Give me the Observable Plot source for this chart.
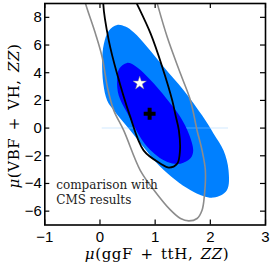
<!DOCTYPE html>
<html><head><meta charset="utf-8">
<script src="https://cdn.jsdelivr.net/npm/d3@7"></script>
<script src="https://cdn.jsdelivr.net/npm/@observablehq/plot@0.6"></script>
<style>body{margin:0;background:#fff} svg{display:block}</style>
</head><body><div id="chart"></div>
<script>
const xTicks = [-1, 0, 1, 2, 3];
const yTicks = [-6, -4, -2, 0, 2, 4, 6, 8];

// 2-sigma (light blue) region boundary
const region2 = [[0.31,7.45],[0.46,7.33],[0.61,6.92],[0.86,5.84],[1.16,4.40],[1.52,2.72],[1.85,0.92],[2.06,-0.40],[2.24,-1.61],[2.33,-3.05],[2.30,-4.49],[2.06,-5.02],[1.70,-4.61],[1.16,-3.05],[0.55,-0.17],[0.25,1.28],[0.13,2.0],[0.06,3.22],[0.04,4.88],[0.07,6.08],[0.16,7.04]];
// 1-sigma (dark blue) region boundary
const region1 = [[0.49,4.71],[0.67,4.40],[0.98,3.20],[1.28,1.76],[1.46,0.79],[1.61,-0.40],[1.69,-1.61],[1.64,-2.18],[1.46,-2.57],[1.22,-2.45],[0.86,-1.37],[0.49,1.13],[0.34,2.36],[0.31,3.44],[0.35,4.30]];
// CMS 1-sigma contour (black)
const cms1 = [[0.06,8.97],[0.16,6.32],[0.31,3.92],[0.54,0.92],[0.79,-1.61],[1.10,-2.57],[1.25,-2.85],[1.40,-2.57],[1.45,-1.61],[1.43,-0.17],[1.37,0.92],[1.31,2.00],[1.13,4.40],[0.92,6.80],[0.67,8.97],[0.46,10.65],[0.23,11.73],[0.08,10.65]];
// CMS 2-sigma contour (gray)
const cms2 = [[-0.26,8.97],[-0.08,6.80],[0.04,5.12],[0.14,2.86],[0.25,1.28],[0.43,-0.17],[0.73,-3.05],[0.98,-4.49],[1.28,-5.93],[1.46,-6.53],[1.61,-6.70],[1.76,-6.53],[1.85,-5.93],[1.89,-4.97],[1.91,-3.05],[1.85,-1.61],[1.76,-0.17],[1.64,2.00],[1.46,3.92],[1.22,6.56],[1.04,8.97],[0.88,11.37],[0.19,16.4],[-0.43,11.37]];
const bestFit = [[0.72, 3.24]];   // star
const smPoint = [[0.90, 1.04]];   // cross
const seam = [{y: 0, x1: 0.04, x2: 2.33}];
const note = ["comparison with\nCMS results"];

const W = 273, H = 265;
const mL = 44.3, mR = 8, mT = 3, mB = 40.5;
const fw = W - mL - mR, fh = H - mT - mB;
const X = d => d[0], Y = d => d[1];

const plot = Plot.plot({
  width: W, height: H,
  marginLeft: mL, marginRight: mR, marginTop: mT, marginBottom: mB,
  x: {domain: [-1, 3]},
  y: {domain: [-7, 9]},
  style: {background: "white"},
  marks: [
    Plot.line(region2, {x: X, y: Y, fill: "#0080ff", stroke: "none", curve: "catmull-rom-closed", clip: true}),
    Plot.ruleY(seam, {y: "y", x1: "x1", x2: "x2", stroke: "#99ccff", strokeOpacity: 0.3, strokeWidth: 1.5}),
    Plot.line(region1, {x: X, y: Y, fill: "#0000ff", stroke: "none", curve: "catmull-rom-closed", clip: true}),
    Plot.line(cms2, {x: X, y: Y, stroke: "#8c8c8c", strokeWidth: 1.6, curve: "catmull-rom-closed", clip: true}),
    Plot.line(cms1, {x: X, y: Y, stroke: "black", strokeWidth: 1.8, curve: "catmull-rom-closed", clip: true}),
    Plot.dot(bestFit, {x: X, y: Y, symbol: "star", r: 4.2, fill: "white", stroke: "#888", strokeWidth: 0.5}),
    Plot.dot(smPoint, {x: X, y: Y, symbol: "cross", r: 5, fill: "black", stroke: "none"}),
    Plot.text(note, {text: d => d, frameAnchor: "bottom-left", dx: 11.5, dy: -21.5, textAnchor: "start", lineAnchor: "bottom", fontFamily: "DejaVu Serif", fontSize: 12, lineHeight: 1.22, fill: "#222"}),
    // inward ticks on all four sides
    Plot.tickX(xTicks, {x: d => d, insetTop: fh - 5, stroke: "black", strokeWidth: 1.2}),
    Plot.tickX(xTicks, {x: d => d, insetBottom: fh - 5, stroke: "black", strokeWidth: 1.2}),
    Plot.tickY(yTicks, {y: d => d, insetRight: fw - 5, stroke: "black", strokeWidth: 1.2}),
    Plot.tickY(yTicks, {y: d => d, insetLeft: fw - 5, stroke: "black", strokeWidth: 1.2}),
    Plot.axisX(xTicks, {tickSize: 0, tickPadding: 6, fontSize: 15, fontFamily: "Liberation Sans", label: null}),
    Plot.axisY(yTicks, {tickSize: 0, tickPadding: 3, fontSize: 15, fontFamily: "Liberation Sans", label: null}),
    Plot.frame({stroke: "black", strokeWidth: 1.6})
  ]
});

const svg = d3.select(plot);
function mathLabel(parts, attrs) {
  const t = svg.append("text")
    .attr("font-family", "DejaVu Serif")
    .attr("font-size", 15)
    .attr("letter-spacing", 0.6)
    .attr("word-spacing", 2)
    .attr("fill", "black")
    .attr("text-anchor", "middle");
  for (const [k, v] of Object.entries(attrs)) t.attr(k, v);
  for (const [s, it] of parts) t.append("tspan").attr("font-style", it ? "italic" : "normal").text(s);
  return t;
}
mathLabel([["μ", true], ["(ggF + ttH, ", false], ["ZZ", true], [")", false]],
  {x: 157, y: 259});
mathLabel([["μ", true], ["(VBF + VH, ", false], ["ZZ", true], [")", false]],
  {transform: "translate(18.5,116) rotate(-90)"});

document.getElementById("chart").appendChild(plot);
</script>
</body></html>
